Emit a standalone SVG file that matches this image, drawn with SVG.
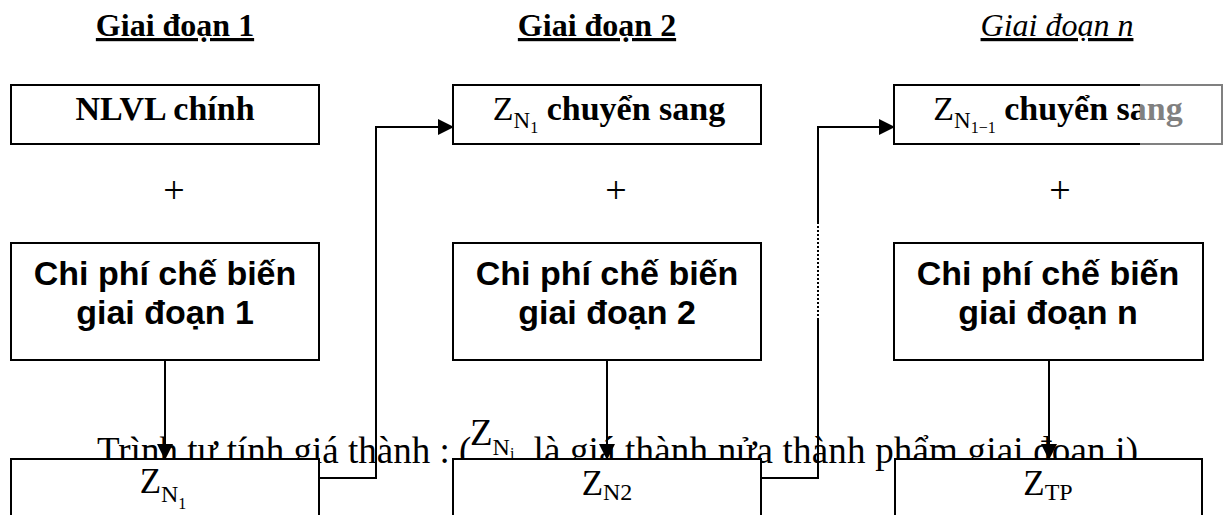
<svg xmlns="http://www.w3.org/2000/svg" width="1224" height="515" viewBox="0 0 1224 515">
<style>
.box{fill:#fff;stroke:#000;stroke-width:2}
.ser{font-family:"Liberation Serif","Times New Roman",serif;fill:#000}
.b{font-weight:bold}
.n{font-weight:normal}
.sans{font-family:"Liberation Sans",Arial,sans-serif;font-weight:bold;font-size:34px;fill:#000}
.hd{font-size:32px;text-decoration:underline}
.con{fill:none;stroke:#000;stroke-width:2}
</style>
<defs>
<marker id="ah" markerUnits="userSpaceOnUse" markerWidth="16" markerHeight="16" refX="16" refY="8" orient="auto" overflow="visible">
<path d="M0,0 L16,8 L0,16 z" fill="#000"/>
</marker>
</defs>
<rect width="1224" height="515" fill="#fff"/>

<g id="headers">
<text class="ser b hd" x="175" y="36" text-anchor="middle">Giai đoạn 1</text>
<text class="ser b hd" x="597" y="36" text-anchor="middle">Giai đoạn 2</text>
<text class="ser hd" x="1057" y="36" text-anchor="middle" font-style="italic">Giai đoạn n</text>
</g>

<g id="plus">
<text class="ser" x="174" y="203" font-size="38" text-anchor="middle">+</text>
<text class="ser" x="616" y="203" font-size="38" text-anchor="middle">+</text>
<text class="ser" x="1060" y="203" font-size="38" text-anchor="middle">+</text>
</g>

<text id="note" class="ser" y="463" font-size="37"><tspan x="97">Trình tự tính giá thành : (</tspan><tspan x="470" dy="-18">Z</tspan><tspan font-size="24" dy="10">N</tspan><tspan font-size="16" dy="4">i</tspan><tspan x="524" dy="4" textLength="614" lengthAdjust="spacing"> là giá thành nửa thành phẩm giai đoạn i)</tspan></text>

<g id="n1-nlvl">
<rect class="box" x="11" y="85" width="308" height="59"/>
<text class="ser b" x="165" y="120" font-size="34" text-anchor="middle">NLVL chính</text>
</g>
<g id="n1-cp">
<rect class="box" x="11" y="243" width="308" height="117"/>
<text class="sans" x="165" y="285" text-anchor="middle">Chi phí chế biến</text>
<text class="sans" x="165" y="324" text-anchor="middle">giai đoạn 1</text>
</g>
<g id="n1-z">
<rect class="box" x="11" y="459" width="308" height="80"/>
<text class="ser" x="163" y="493" font-size="35" text-anchor="middle">Z<tspan font-size="24" dy="9">N</tspan><tspan font-size="16" dy="7">1</tspan></text>
</g>

<g id="n2-zn">
<rect class="box" x="453" y="85" width="308" height="59"/>
<text class="ser" x="609" y="120" font-size="34" text-anchor="middle"><tspan class="n">Z</tspan><tspan class="n" font-size="23" dy="8">N</tspan><tspan class="n" font-size="16" dy="5">1</tspan><tspan class="b" dy="-13"> chuyển sang</tspan></text>
</g>
<g id="n2-cp">
<rect class="box" x="453" y="243" width="308" height="117"/>
<text class="sans" x="607" y="285" text-anchor="middle">Chi phí chế biến</text>
<text class="sans" x="607" y="324" text-anchor="middle">giai đoạn 2</text>
</g>
<g id="n2-z">
<rect class="box" x="453" y="459" width="308" height="80"/>
<text class="ser" x="607" y="495" font-size="35" text-anchor="middle">Z<tspan font-size="24" dy="5">N2</tspan></text>
</g>

<g id="n3-zn">
<rect class="box" x="894" y="85" width="328" height="59"/>
<text class="ser" x="1058" y="120" font-size="34" text-anchor="middle"><tspan class="n">Z</tspan><tspan class="n" font-size="23" dy="8">N</tspan><tspan class="n" font-size="16" dy="5">1−1</tspan><tspan class="b" dy="-13"> chuyển sang</tspan></text>
<rect x="1140" y="80" width="84" height="70" fill="#fff" fill-opacity="0.5"/>
</g>
<g id="n3-cp">
<rect class="box" x="894" y="243" width="309" height="117"/>
<text class="sans" x="1048" y="285" text-anchor="middle">Chi phí chế biến</text>
<text class="sans" x="1048" y="324" text-anchor="middle">giai đoạn n</text>
</g>
<g id="n3-z">
<rect class="box" x="895" y="459" width="307" height="80"/>
<text class="ser" x="1048" y="495" font-size="35" text-anchor="middle">Z<tspan font-size="24" dy="5">TP</tspan></text>
</g>

<g id="connectors">
<line class="con" x1="165" y1="360" x2="165" y2="460" marker-end="url(#ah)"/>
<line class="con" x1="607" y1="360" x2="607" y2="460" marker-end="url(#ah)"/>
<line class="con" x1="1049" y1="360" x2="1049" y2="460" marker-end="url(#ah)"/>
<path class="con" d="M319,478 H376 V127 H454" marker-end="url(#ah)"/>
<path class="con" d="M761,478 H818 V320"/>
<path class="con" d="M818,320 V223" stroke-width="1.5" stroke-dasharray="2 2"/>
<path class="con" d="M818,223 V127 H895" marker-end="url(#ah)"/>
</g>
</svg>
